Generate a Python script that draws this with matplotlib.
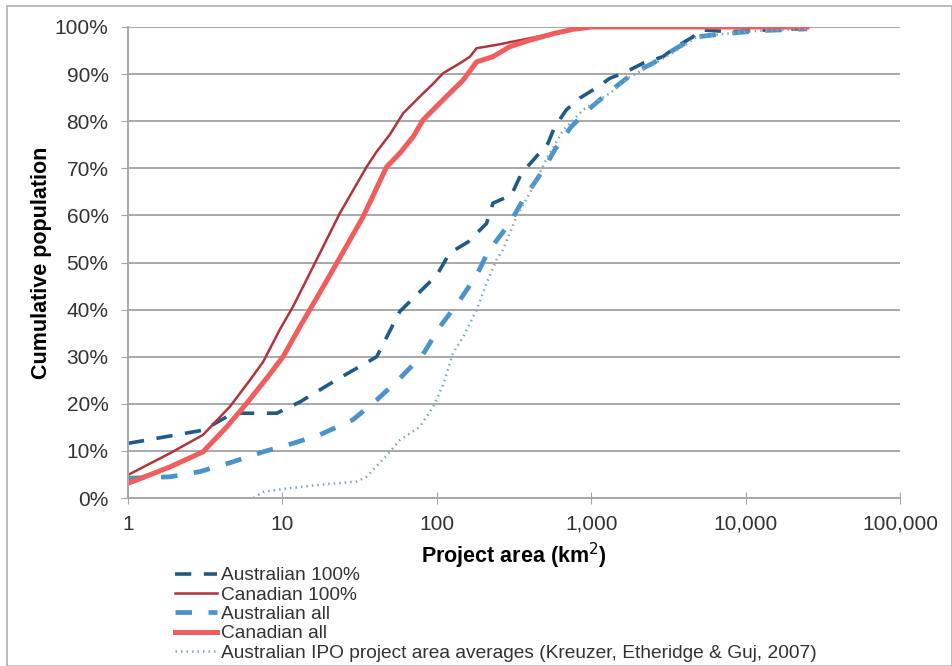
import numpy as np
import matplotlib
matplotlib.use("Agg")
from matplotlib import pyplot as plt
from matplotlib.patches import Rectangle
from matplotlib.ticker import FuncFormatter, FixedLocator, NullLocator

plt.rcParams['font.family'] = ['Liberation Sans', 'DejaVu Sans']

# 读图得到的数据：项目面积 (km2) 与累计百分比
aus100_x = [1, 3.06, 4.8, 9.2, 13, 23.5, 35, 40.8, 57.6, 100, 121, 160, 210, 231, 304, 353,
            431, 525, 580, 690, 843, 1107, 1318, 1690, 2163, 2915, 3560, 4560, 5040, 8000,
            12000, 25000]
aus100_y = [11.6, 14.4, 18, 18, 20.4, 25.5, 28.7, 30, 39.6, 47.3, 52, 54.4, 58.3, 62.6, 64.3,
            68.9, 72.1, 75.3, 78.8, 82.4, 84.9, 87.3, 89.1, 90.5, 92.3, 93.7, 95.8, 97.9, 99.4,
            99.0, 99.3, 99.7]

can100_x = [1, 1.87, 3.06, 4.57, 6.15, 7.5, 9.6, 11.7, 16.6, 23.5, 35.1, 40.7, 49.5, 60.6,
            77.5, 95, 110, 141, 164, 181, 243, 311, 510, 730, 1000, 25000]
can100_y = [4.9, 9.5, 13.4, 19.4, 25, 28.9, 35.7, 40.6, 50.5, 60.4, 70.3, 73.5, 77.1, 81.7,
            85.2, 88, 90.2, 92.3, 93.7, 95.5, 96.2, 96.9, 98.3, 99.5, 100, 100]

ausall_x = [1, 1.87, 2.92, 4.8, 7.5, 11.7, 17.4, 28.6, 40.8, 57.6, 81, 105, 141, 181, 215,
            296, 362, 488, 580, 741, 977, 1318, 1872, 2506, 3560, 4800, 7000, 12000, 25000]
ausall_y = [4.2, 4.5, 5.6, 7.7, 9.8, 11.6, 13.4, 16.6, 20.8, 25.4, 30.4, 36.4, 42, 47.3, 52.3,
            58.3, 63.3, 69.6, 73.9, 78.8, 82.7, 86.3, 90.2, 92.3, 95.5, 97.9, 98.5, 99.2, 99.6]

canall_x = [1, 1.87, 3.06, 4.36, 5.87, 7.9, 10.1, 13, 17.4, 24.8, 33.3, 47.3, 57.6, 70.3,
            81.6, 115, 148, 181, 231, 296, 400, 570, 760, 1000, 25000]
canall_y = [3.1, 6.6, 9.8, 15.1, 20.1, 25.4, 30, 36.4, 43.5, 52.3, 59.7, 70.3, 73.2, 76.7,
            80.3, 85.2, 88.7, 92.6, 93.7, 95.8, 97.2, 98.6, 99.5, 100, 100]

ipo_x = [6.5, 7.5, 10.6, 17.4, 30.2, 35, 47.3, 57.6, 77.5, 95, 111, 127, 148, 181, 210, 243,
         268, 328, 400, 510, 658, 887, 1318, 1780, 2500, 3560, 4800, 7000, 12000, 25000]
ipo_y = [0, 1.3, 2, 2.8, 3.5, 4.5, 9, 12.3, 15.1, 19.4, 24.4, 30.7, 34.2, 39.9, 45.6, 50.5,
         52.7, 59.7, 64.7, 71.8, 78.1, 82.4, 85.9, 89.4, 92, 95, 97.8, 98.5, 99.2, 99.6]

x_ticks = [1, 10, 100, 1000, 10000, 100000]
y_ticks = [0, 10, 20, 30, 40, 50, 60, 70, 80, 90, 100]

W, H = 953, 666
fig = plt.figure(figsize=(W / 100, H / 100), dpi=100)
ax = fig.add_axes([128 / W, 1 - 498 / H, (900 - 128) / W, (498 - 27) / H])

ax.plot(aus100_x, aus100_y, color='#1f5a8a', lw=2.6, dashes=(4.5, 3.5),
        label='Australian 100%')
ax.plot(can100_x, can100_y, color='#b0343a', lw=1.8, label='Canadian 100%')
ax.plot(ausall_x, ausall_y, color='#4a93cc', lw=3.4, dashes=(3.5, 3.5),
        label='Australian all')
ax.plot(canall_x, canall_y, color='#f25c5c', lw=3.6, label='Canadian all')
ax.plot(ipo_x, ipo_y, color='#7fa6bb', lw=1.8, dashes=(0.6, 1.6),
        label='Australian IPO project area averages (Kreuzer, Etheridge & Guj, 2007)')

ax.set_xscale('log')
ax.set_xlim(1, 100000)
ax.set_ylim(0, 100)
ax.xaxis.set_major_locator(FixedLocator(x_ticks))
ax.xaxis.set_minor_locator(NullLocator())
ax.xaxis.set_major_formatter(FuncFormatter(lambda v, p: f'{int(round(v)):,}'))
ax.set_yticks(y_ticks)
ax.set_yticklabels([f'{v}%' for v in y_ticks])

ax.grid(axis='y', color='#a8a8a8', lw=1.4)
ax.set_axisbelow(True)
for s in ['top', 'right']:
    ax.spines[s].set_visible(False)
ax.spines['left'].set_color('#a8a8a8')
ax.spines['bottom'].set_color('#a8a8a8')
ax.spines['left'].set_linewidth(1.4)
ax.spines['bottom'].set_linewidth(1.4)
ax.tick_params(axis='y', length=5, color='#a8a8a8', labelsize=15, labelcolor='#333333', pad=9)
ax.tick_params(axis='x', direction='inout', length=8, color='#a8a8a8', labelsize=15,
               labelcolor='#333333', pad=8)

ax.set_ylabel('Cumulative population', fontsize=15.5, fontweight='bold', labelpad=2)
ax.set_xlabel('Project area (km$^2$)', fontsize=15.5, fontweight='bold', labelpad=5)

fig.legend(loc='upper left', bbox_to_anchor=(175 / W, 1 - 567 / H), frameon=False,
           fontsize=13.8, handlelength=2.2, handletextpad=0.2, labelspacing=0.1,
           borderaxespad=0, borderpad=0, labelcolor='#333333')

fig.patches.append(Rectangle((7 / W, 0), 945 / W, 1 - 6 / H, transform=fig.transFigure,
                             fill=False, edgecolor='#b0b0b0', lw=1.2))

fig.savefig('out.png', dpi=100)
